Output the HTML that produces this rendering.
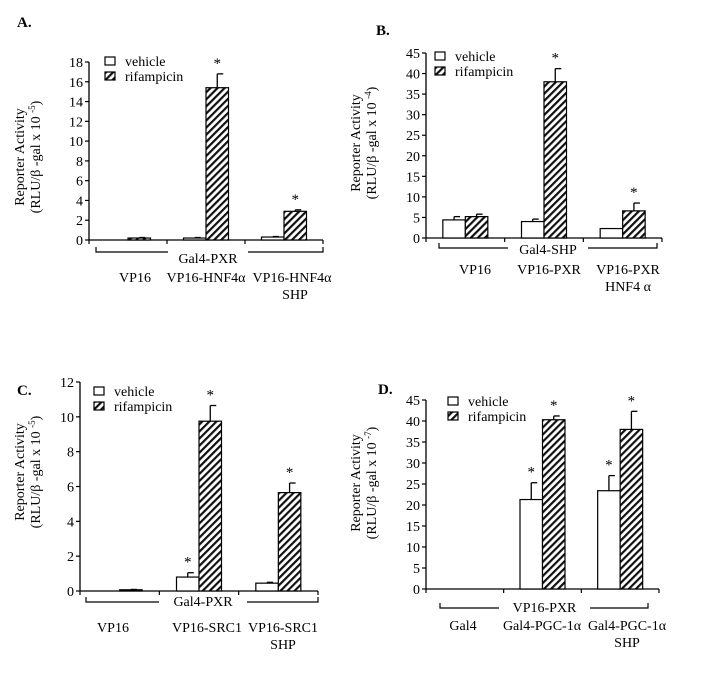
<!DOCTYPE html>
<html><head><meta charset="utf-8"><style>
body{margin:0;background:#fff;}
svg{display:block;font-family:"Liberation Serif","DejaVu Serif",serif;}
</style></head><body>
<svg id="fig" width="711" height="684" viewBox="0 0 711 684" xmlns="http://www.w3.org/2000/svg">
<defs>
<pattern id="hatch" patternUnits="userSpaceOnUse" width="5" height="5" patternTransform="rotate(45)">
<rect width="5" height="5" fill="#fff"/><rect x="0" y="0" width="2.2" height="5" fill="#111"/>
</pattern>
</defs>
</svg>
<script>
// Panel A
const aCategories = ["VP16", "VP16-HNF4α", "VP16-HNF4α"];
const aVehicle = [0, 0.2, 0.3];
const aVehicleErr = [0, 0.05, 0.05];
const aRif = [0.2, 15.4, 2.9];
const aRifErr = [0.05, 1.4, 0.15];
const aTicks = [0, 2, 4, 6, 8, 10, 12, 14, 16, 18];
const aStarVeh = [false, false, false];
const aStarRif = [false, true, true];
// Panel B
const bCategories = ["VP16", "VP16-PXR", "VP16-PXR"];
const bVehicle = [4.4, 4.0, 2.3];
const bVehicleErr = [0.8, 0.6, 0];
const bRif = [5.2, 38, 6.6];
const bRifErr = [0.6, 3.2, 1.9];
const bTicks = [0, 5, 10, 15, 20, 25, 30, 35, 40, 45];
const bStarVeh = [false, false, false];
const bStarRif = [false, true, true];
// Panel C
const cCategories = ["VP16", "VP16-SRC1", "VP16-SRC1"];
const cVehicle = [0, 0.8, 0.45];
const cVehicleErr = [0, 0.25, 0.05];
const cRif = [0.07, 9.75, 5.65];
const cRifErr = [0.02, 0.9, 0.55];
const cTicks = [0, 2, 4, 6, 8, 10, 12];
const cStarVeh = [false, true, false];
const cStarRif = [false, true, true];
// Panel D
const dCategories = ["Gal4", "Gal4-PGC-1α", "Gal4-PGC-1α"];
const dVehicle = [0, 21.3, 23.4];
const dVehicleErr = [0, 4.0, 3.6];
const dRif = [0, 40.3, 38];
const dRifErr = [0, 0.9, 4.3];
const dTicks = [0, 5, 10, 15, 20, 25, 30, 35, 40, 45];
const dStarVeh = [false, true, true];
const dStarRif = [false, true, true];

const svg = document.getElementById('fig');
const NS = 'http://www.w3.org/2000/svg';
function mk(tag, attrs, parent) {
  const e = document.createElementNS(NS, tag);
  for (const k in attrs) e.setAttribute(k, attrs[k]);
  (parent || svg).appendChild(e);
  return e;
}
function txt(s, x, y, size, anchor, parent, weight) {
  const t = mk('text', {x: x, y: y, 'font-size': size, 'text-anchor': anchor || 'middle', fill: '#000'}, parent);
  if (weight) t.setAttribute('font-weight', weight);
  t.textContent = s;
  return t;
}

function panel(cfg) {
  const g = mk('g', {});
  
  
  const {x0, x1, y0, yTop, max} = cfg;
  const ys = v => y0 - (v / max) * (y0 - yTop);
  const lbl = txt(cfg.letter, cfg.lx, cfg.ly, 15, 'start', g, 'bold');
  
  
  const ax = mk('line', {x1: x0, y1: yTop, x2: x0, y2: y0, stroke: '#000', 'stroke-width': 1.3}, g);
  
  
  cfg.ticks.forEach(t => {
    mk('line', {x1: x0 - 4, y1: ys(t), x2: x0, y2: ys(t), stroke: '#000', 'stroke-width': 1.2}, g);
    const tl = txt(String(t), x0 - 6, ys(t) + 5, 14, 'end', g);
    
    
  });
  const xa = mk('line', {x1: x0, y1: y0, x2: x1, y2: y0, stroke: '#000', 'stroke-width': 1.3}, g);
  
  
  const n = cfg.veh.length;
  const gw = (x1 - x0) / n;
  for (let i = 0; i <= n; i++) mk('line', {x1: x0 + i * gw, y1: y0, x2: x0 + i * gw, y2: y0 + 4, stroke: '#000', 'stroke-width': 1.2}, g);
  const bw = 22.5;
  for (let i = 0; i < n; i++) {
    const c = x0 + (i + 0.5) * gw;
    [[cfg.veh, cfg.vehErr, cfg.starVeh, c - bw, '#fff', 'vehicle-bar'], [cfg.rif, cfg.rifErr, cfg.starRif, c, 'url(#hatch)', 'rifampicin-bar']].forEach(([vals, errs, stars, bx, fill, nm]) => {
      const v = vals[i];
      if (v > 0) {
        const r = mk('rect', {x: bx, y: ys(v), width: bw, height: y0 - ys(v), fill: fill, stroke: '#000', 'stroke-width': 1.2}, g);
        
        
      }
      const e = errs[i];
      if (e > 0) {
        const cx = bx + bw / 2;
        mk('line', {x1: cx, y1: ys(v), x2: cx, y2: ys(v + e), stroke: '#000', 'stroke-width': 1.3}, g);
        mk('line', {x1: cx, y1: ys(v + e), x2: cx + 6, y2: ys(v + e), stroke: '#000', 'stroke-width': 1.3}, g);
      }
      if (stars[i]) {
        const s = txt('*', bx + bw / 2, ys(v + e) - 6, 15, 'middle', g);
        
        
      }
    });
  }
  const by = cfg.by;
  const br = mk('path', {d: `M${cfg.bx0},${by - 5}V${by}H${cfg.gap0}M${cfg.gap1},${by}H${cfg.bx1}V${by - 5}`, fill: 'none', stroke: '#000', 'stroke-width': 1.2}, g);
  
  
  const top = txt(cfg.common, (cfg.gap0 + cfg.gap1) / 2, by + cfg.cdy, 14, 'middle', g);
  
  
  cfg.cats.forEach((s, i) => {
    const t = txt(s, cfg.catX[i], cfg.cy, 14, 'middle', g);
    
    
  });
  const ex = txt(cfg.extra, cfg.extraX, cfg.cy + 17, 14, 'middle', g);
  
  
  const lg = mk('g', {}, g);
  
  
  mk('rect', {x: cfg.legX, y: cfg.legY - 4, width: 10, height: 8, fill: '#fff', stroke: '#000', 'stroke-width': 1.2}, lg);
  mk('rect', {x: cfg.legX, y: cfg.legY + 11, width: 10, height: 8, fill: 'url(#hatch)', stroke: '#000', 'stroke-width': 1.2}, lg);
  txt('vehicle', cfg.legX + 20, cfg.legY + 5, 14, 'start', lg);
  txt('rifampicin', cfg.legX + 20, cfg.legY + 20, 14, 'start', lg);
  const yt = mk('g', {transform: `translate(${cfg.ytx},${cfg.yty}) rotate(-90)`}, g);
  
  
  txt('Reporter Activity', 0, -10, 14, 'middle', yt);
  const t2 = txt('(RLU/β -gal x 10 ', 0, 6, 14, 'middle', yt);
  const sp = document.createElementNS(NS, 'tspan');
  sp.setAttribute('font-size', 9); sp.setAttribute('dy', -5);
  sp.textContent = cfg.exp;
  t2.appendChild(sp);
  const sp2 = document.createElementNS(NS, 'tspan');
  sp2.setAttribute('dy', 5); sp2.textContent = ')';
  t2.appendChild(sp2);
}

panel({name: 'panel-a', letter: 'A.', lx: 17, ly: 27, x0: 89, x1: 323, y0: 240, yTop: 62, max: 18, ticks: aTicks,
  veh: aVehicle, vehErr: aVehicleErr, rif: aRif, rifErr: aRifErr, starVeh: aStarVeh, starRif: aStarRif,
  by: 252, cdy: 11, bx0: 96, bx1: 323, gap0: 168, gap1: 248, common: 'Gal4-PXR', cats: aCategories, catX: [135, 206, 292], cy: 282, extra: 'SHP', extraX: 295,
  legX: 105, legY: 61, ytx: 34, yty: 157, exp: '-5'});
panel({name: 'panel-b', letter: 'B.', lx: 376, ly: 35, x0: 426, x1: 662, y0: 238, yTop: 53, max: 45, ticks: bTicks,
  veh: bVehicle, vehErr: bVehicleErr, rif: bRif, rifErr: bRifErr, starVeh: bStarVeh, starRif: bStarRif,
  by: 248, cdy: 6, bx0: 439, bx1: 657, gap0: 508, gap1: 588, common: 'Gal4-SHP', cats: bCategories, catX: [475, 549, 628], cy: 274, extra: 'HNF4 α', extraX: 628,
  legX: 435, legY: 56, ytx: 370, yty: 143, exp: '-4'});
panel({name: 'panel-c', letter: 'C.', lx: 17, ly: 395, x0: 80, x1: 318, y0: 591, yTop: 382, max: 12, ticks: cTicks,
  veh: cVehicle, vehErr: cVehicleErr, rif: cRif, rifErr: cRifErr, starVeh: cStarVeh, starRif: cStarRif,
  by: 602, cdy: 4, bx0: 86, bx1: 318, gap0: 159, gap1: 247, common: 'Gal4-PXR', cats: cCategories, catX: [113, 207, 283], cy: 632, extra: 'SHP', extraX: 283,
  legX: 94, legY: 391, ytx: 34, yty: 472, exp: '-5'});
panel({name: 'panel-d', letter: 'D.', lx: 378, ly: 394, x0: 426, x1: 659, y0: 589, yTop: 400, max: 45, ticks: dTicks,
  veh: dVehicle, vehErr: dVehicleErr, rif: dRif, rifErr: dRifErr, starVeh: dStarVeh, starRif: dStarRif,
  by: 608, cdy: 4, bx0: 440, bx1: 648, gap0: 499, gap1: 590, common: 'VP16-PXR', cats: dCategories, catX: [463, 542, 627], cy: 630, extra: 'SHP', extraX: 627,
  legX: 448, legY: 401, ytx: 370, yty: 483, exp: '-7'});
</script>
</body></html>
